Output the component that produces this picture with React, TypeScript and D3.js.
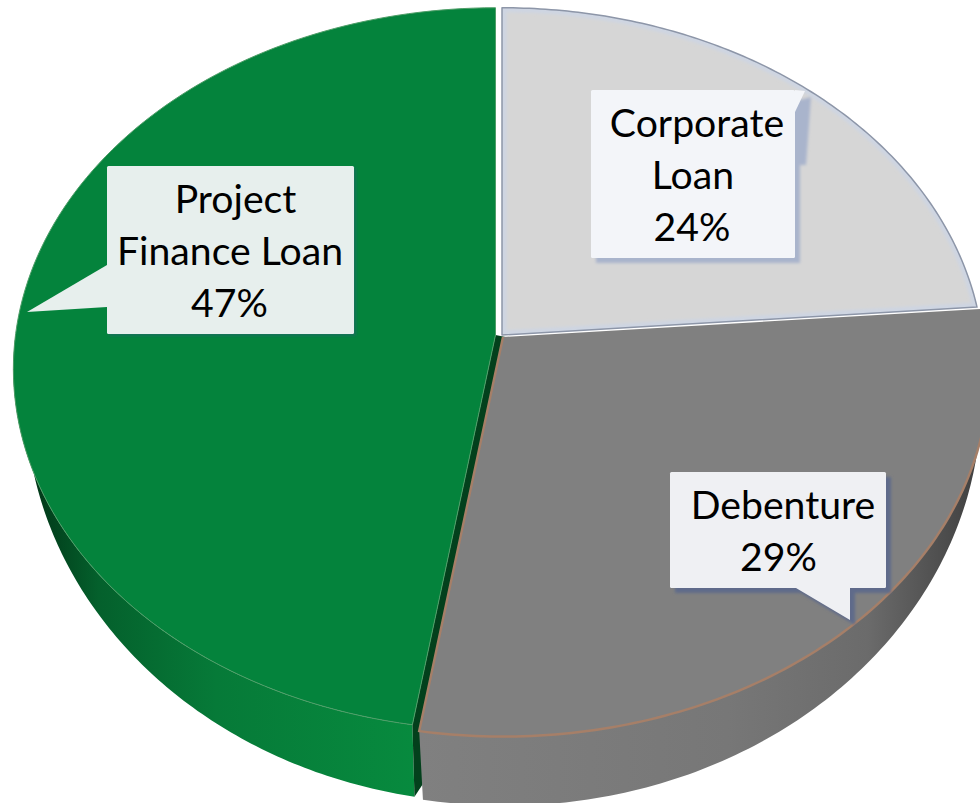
import React from "react";
import * as d3 from "d3";

const categories = ["Corporate Loan", "Debenture", "Project Finance Loan"];
const shares = [23.75, 28.76, 47.49];

const W = 980, H = 803;
const P = 0.094;

type Disc = { cx: number; cy: number; rx: number; ry: number };
const project = (d: Disc, a: number): [number, number] => {
  const u = Math.sin(a), v = -Math.cos(a);
  const k = 1 / (1 - P * v);
  return [d.cx + d.rx * u * k, d.cy + d.ry * v * k];
};
const arcPts = (d: Disc, a0: number, a1: number) =>
  d3.range(0, 121).map((i) => project(d, a0 + ((a1 - a0) * i) / 120));

const sliceStyles = [
  {
    fill: "#d6d6d6", stroke: "#8d96a8", side: "side0", dark: "#7a7a7a",
    top: { cx: 502, cy: 335, rx: 480, ry: 358 }, bottom: { cx: 502, cy: 360, rx: 468, ry: 402 },
  },
  {
    fill: "#808080", stroke: "#a67f68", side: "side1", dark: "#555",
    top: { cx: 503, cy: 337, rx: 484, ry: 362 }, bottom: { cx: 505, cy: 362, rx: 474, ry: 402 },
  },
  {
    fill: "#04833c", stroke: "#4f9e68", side: "side2", dark: "#03401c",
    top: { cx: 495.5, cy: 335, rx: 480, ry: 358 }, bottom: { cx: 495.5, cy: 359, rx: 468, ry: 402 },
  },
];

const boxes = [
  { i: 0, x: 591, y: 90, w: 204, h: 168, fill: "#f3f5f9", shadow: "#a9b4cc", sdx: 5, sdy: 5,
    tail: [[795, 90], [805, 91], [795, 112]], shadowTail: [[795, 95], [806, 92], [801, 160], [795, 160]],
    lines: ["Corporate", "Loan"], tx: [697, 693, 692], ty: 137 },
  { i: 1, x: 670, y: 472, w: 216, h: 116, fill: "#eff0f3", shadow: "#5f6a8a", sdx: 5, sdy: 5,
    tail: [[796, 588], [850, 620], [850, 588]], shadowTail: [[796, 588], [850, 620], [850, 588]],
    lines: ["Debenture"], tx: [783, 778.5], ty: 519 },
  { i: 2, x: 107, y: 166, w: 247, h: 168, fill: "#e7efed", shadow: "#12705a", sdx: 2, sdy: 2,
    tail: [[107, 265], [27, 312], [107, 307]], shadowTail: [[107, 265], [107, 307], [107, 280]],
    lines: ["Project", "Finance Loan"], tx: [235.5, 230, 229.5], ty: 213 },
];

export default function App() {
  const pie = d3.pie<number>().sort(null).value((d) => d);
  const arcs = pie(shares);
  const line = d3.line();
  const order = [2, 1, 0];
  return (
    <svg width={W} height={H} style={{ position: "absolute", left: 0, top: 0, background: "#fff" }}>
      <defs>
        <linearGradient id="side1" gradientUnits="userSpaceOnUse" x1="420" x2="980" y1="0" y2="0">
          <stop offset="0" stopColor="#808080" />
          <stop offset="0.55" stopColor="#777" />
          <stop offset="0.8" stopColor="#6b6b6b" />
          <stop offset="0.95" stopColor="#4a4a4a" />
          <stop offset="1" stopColor="#3f3f3f" />
        </linearGradient>
        <linearGradient id="side2" gradientUnits="userSpaceOnUse" x1="20" x2="412" y1="0" y2="0">
          <stop offset="0" stopColor="#012f14" />
          <stop offset="0.2" stopColor="#04602c" />
          <stop offset="0.5" stopColor="#067a38" />
          <stop offset="1" stopColor="#078a3e" />
        </linearGradient>
        <linearGradient id="side0" x1="0" x2="1"><stop offset="0" stopColor="#999" /><stop offset="1" stopColor="#999" /></linearGradient>
        <filter id="soft" x="-20%" y="-20%" width="140%" height="140%"><feGaussianBlur stdDeviation="1.6" /></filter>
        <filter id="edge" x="-5%" y="-5%" width="110%" height="110%"><feGaussianBlur stdDeviation="0.6" /></filter>
        {arcs.map((a, i) => {
          const s = sliceStyles[i];
          return (
            <clipPath id={`face${i}`} key={i}>
              <path d={line([[s.top.cx, s.top.cy], ...arcPts(s.top, a.startAngle, a.endAngle)] as [number, number][])! + "Z"} />
            </clipPath>
          );
        })}
      </defs>
      {order.map((i) => {
        const s = sliceStyles[i], a = arcs[i];
        const a0 = Math.max(a.startAngle, Math.PI / 2), a1 = Math.min(a.endAngle, 3 * Math.PI / 2);
        const wall = a1 > a0
          ? [...arcPts(s.top, a0, a1), ...arcPts(s.bottom, a0, a1).reverse()] as [number, number][]
          : null;
        const topPt = project(s.top, a.startAngle), botPt = project(s.bottom, a.startAngle);
        const rim = arcPts(s.top, a.startAngle, a.endAngle) as [number, number][];
        const topFace = [[s.top.cx, s.top.cy], ...rim] as [number, number][];
        return (
          <g key={categories[i]}>
            {wall && <path d={line(wall)! + "Z"} fill={`url(#${s.side})`} />}
            {i === 2 && (
              <path
                d={line([[s.top.cx, s.top.cy], topPt, botPt, [topPt[0] + 10, botPt[1] - 12], [s.top.cx + 10, s.top.cy + 2]])! + "Z"}
                fill={s.dark}
              />
            )}
            <path d={line(topFace)! + "Z"} fill={s.fill} />
            {i === 0 && (
              <path d={line(topFace)! + "Z"} fill="none" stroke="#ced5e2" strokeWidth={9} clipPath="url(#face0)" filter="url(#soft)" />
            )}
            {i === 1 ? (
              <path
                d={line([[s.top.cx, s.top.cy], ...rim.slice().reverse()] as [number, number][])!}
                fill="none" stroke={s.stroke} strokeWidth={2.4} filter="url(#edge)"
              />
            ) : (
              <path d={line(topFace)! + "Z"} fill="none" stroke={s.stroke} strokeWidth={i === 2 ? 1 : 1.5} strokeLinejoin="round" />
            )}
          </g>
        );
      })}
      {boxes.map((b) => {
        const value = Math.round(shares[b.i]);
        const rect = `M${b.x},${b.y}h${b.w}v${b.h}h${-b.w}Z`;
        const tail = line(b.tail as [number, number][])! + "Z";
        const sTail = line(b.shadowTail as [number, number][])! + "Z";
        return (
          <g key={b.i}>
            <g transform={`translate(${b.sdx},${b.sdy})`} fill={b.shadow} filter="url(#soft)">
              <path d={rect} /><path d={sTail} />
            </g>
            <rect x={b.x} y={b.y} width={b.w} height={b.h} rx={1.5} fill={b.fill} />
            <path d={tail} fill={b.fill} />
            <text textAnchor="middle" fontFamily="Lato, 'Open Sans', sans-serif" fontSize={39.2} fill="#000">
              {[...b.lines, `${value}%`].map((t, k) => (
                <tspan key={k} x={b.tx[k]} y={b.ty + k * 52}>{t}</tspan>
              ))}
            </text>
          </g>
        );
      })}
    </svg>
  );
}
